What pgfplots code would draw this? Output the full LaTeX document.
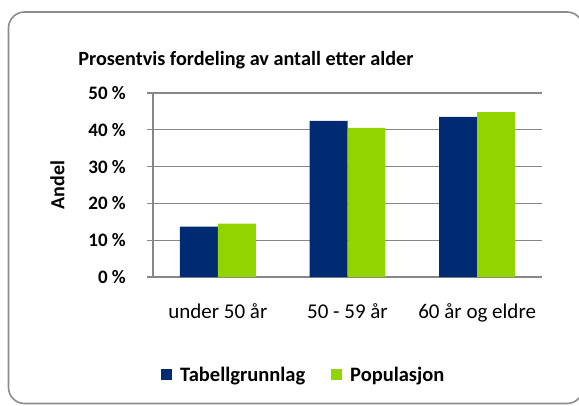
\documentclass[border=0pt]{standalone}
\usepackage{fontspec}
\setmainfont{Carlito}
\usepackage{pgfplots}
\pgfplotsset{compat=1.18}
\definecolor{tabNavy}{HTML}{002A72}
\definecolor{popGreen}{HTML}{92D400}
\definecolor{gridGray}{HTML}{878787}
\definecolor{frameGray}{HTML}{8C8C8C}
\begin{document}
\begin{tikzpicture}[x=1pt,y=1pt]
  \useasboundingbox (0,0) rectangle (579,405);
  \draw[frameGray, line width=1.6pt, rounded corners=16pt] (8.5,1.5) rectangle (583,393);
  \begin{axis}[
    at={(153pt,128pt)}, anchor=south west,
    scale only axis, width=389pt, height=184pt,
    xmin=-0.5, xmax=2.5, ymin=0, ymax=50,
    xtick={0,1,2},
    xticklabels={under 50 år, 50 - 59 år, 60 år og eldre},
    ytick={0,10,20,30,40,50},
    yticklabels={0 \%,10 \%,20 \%,30 \%,40 \%,50 \%},
    axis x line*=bottom, axis y line*=left,
    axis line style={draw=gridGray, line width=1.2pt, -},
    ymajorgrids, major grid style={draw=gridGray, line width=1.2pt},
    ytick style={draw=gridGray, line width=1.2pt},
    xtick style={draw=none},
    tick align=outside, major tick length=6pt,
    yticklabel style={font=\fontsize{19}{22}\selectfont\bfseries, anchor=east, inner sep=0pt, xshift=-21pt},
    xticklabel style={font=\fontsize{21}{24}\selectfont, anchor=base, inner sep=0pt, yshift=-35pt},
    title={\textbf{Prosentvis fordeling av antall etter alder}},
    title style={font=\fontsize{20.2}{24}\selectfont, at={(rel axis cs:0.239,1.118)}, anchor=base, inner sep=0pt},
    ylabel={\textbf{Andel}},
    every axis y label/.style={at={(rel axis cs:-0.2455,0.5)}, rotate=90, anchor=center, font=\fontsize{20}{24}\selectfont},
    ybar, bar width=0.293,
    legend columns=2,
    legend style={draw=none, fill=none, inner sep=0pt, at={(rel axis cs:0.0206,-0.5326)}, anchor=west,
      font=\fontsize{20.5}{24}\selectfont\bfseries,
      /tikz/every odd column/.style={column sep=6pt},
      /tikz/every even column/.style={column sep=24pt}},
    legend image code/.code={\fill[#1] (0pt,-5.5pt) rectangle (11pt,5.5pt);},
  ]
    \addplot[fill=tabNavy, draw=none, bar shift=-0.1465] coordinates {(0,13.7) (1,42.4) (2,43.5)};
    \addplot[fill=popGreen, draw=none, bar shift=0.1465] coordinates {(0,14.5) (1,40.5) (2,44.8)};
    \legend{Tabellgrunnlag, Populasjon}
  \end{axis}
\end{tikzpicture}
\end{document}
